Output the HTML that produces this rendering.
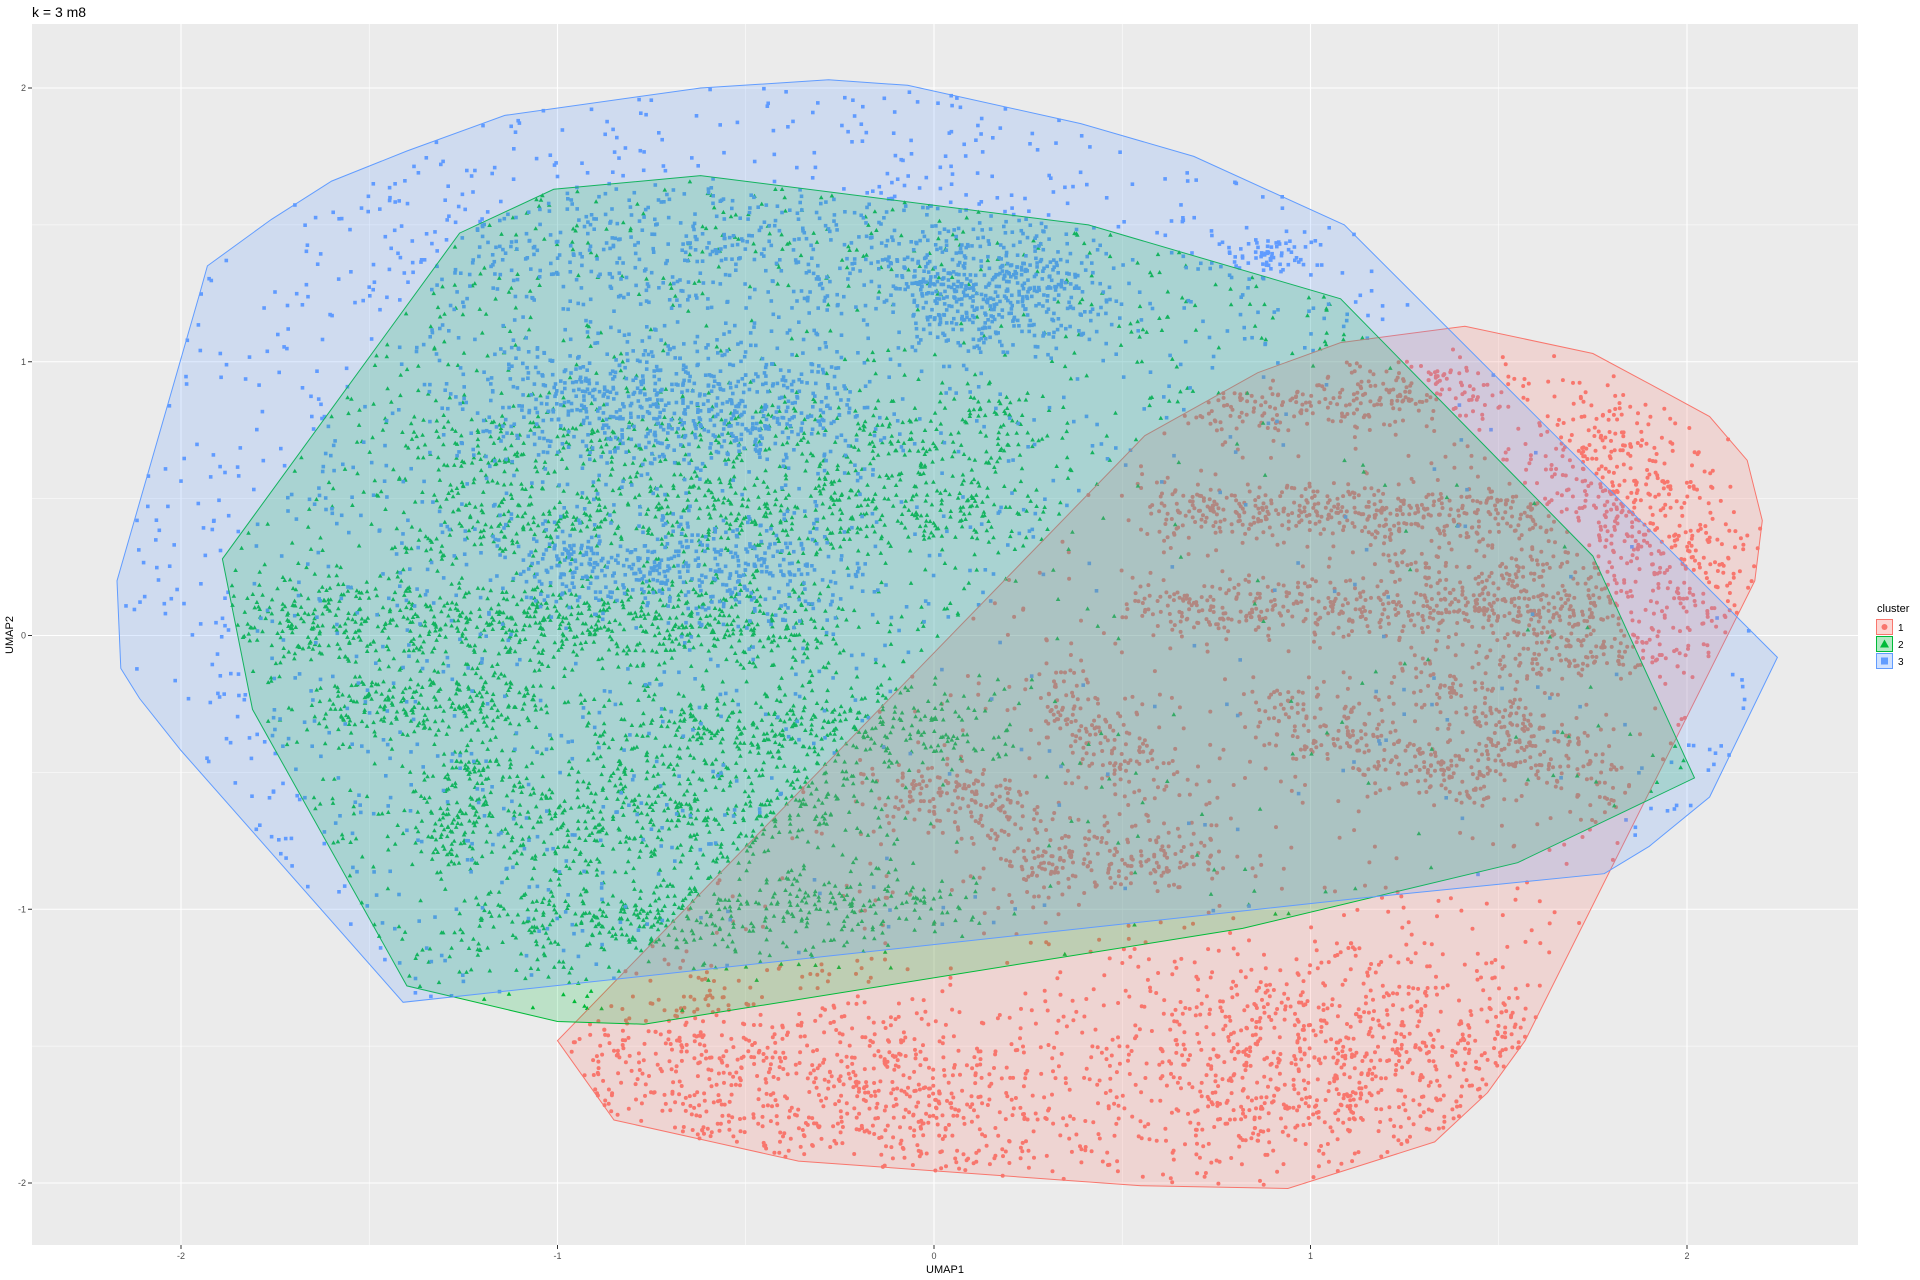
<!DOCTYPE html>
<html><head><meta charset="utf-8">
<style>
html,body{margin:0;padding:0;background:#fff;}
svg{display:block;font-family:"Liberation Sans",sans-serif;}
</style></head>
<body>
<svg id="chart" width="1920" height="1280">
  <text x="32" y="17" font-size="14" fill="#000">k = 3 m8</text>
  <rect x="32" y="24" width="1826" height="1221" fill="#EBEBEB"/>
  <g id="grid"></g>
  <g id="points"></g>
  <g id="hulls"></g>
  <g id="axes"></g>
  <text x="945" y="1273" font-size="11" text-anchor="middle" fill="#000">UMAP1</text>
  <text x="0" y="0" font-size="11" text-anchor="middle" fill="#000" transform="translate(13,635) rotate(-90)">UMAP2</text>
  <g>
    <text x="1877" y="612" font-size="11" fill="#000">cluster</text>
    <g>
      <rect x="1876.5" y="619.5" width="16" height="15" fill="#F8766D" fill-opacity="0.3" stroke="#F8766D"/>
      <circle cx="1884.5" cy="627" r="3" fill="#F8766D"/>
      <text x="1898" y="631" font-size="10" fill="#000">1</text>
    </g>
    <g>
      <rect x="1876.5" y="636.5" width="16" height="15" fill="#00BA38" fill-opacity="0.3" stroke="#00BA38"/>
      <polygon points="1884.5,639.5 1889,647.5 1880,647.5" fill="#00BA38"/>
      <text x="1898" y="648" font-size="10" fill="#000">2</text>
    </g>
    <g>
      <rect x="1876.5" y="653.5" width="16" height="15" fill="#619CFF" fill-opacity="0.3" stroke="#619CFF"/>
      <rect x="1881" y="657.5" width="7" height="7" fill="#619CFF"/>
      <text x="1898" y="665" font-size="10" fill="#000">3</text>
    </g>
  </g>
</svg>
<script>
// ---- data ----
const xTicks = [-2, -1, 0, 1, 2];
const yTicks = [-2, -1, 0, 1, 2];
const xTickLabels = ["-2", "-1", "0", "1", "2"];
const yTickLabels = ["-2", "-1", "0", "1", "2"];
const clusterNames = ["1", "2", "3"];
const clusterColors = ["#F8766D", "#00BA38", "#619CFF"];
// convex hulls [x, y] in UMAP units
const hull1 = [[-1.00,-1.48],[-0.85,-1.77],[-0.36,-1.92],[0.55,-2.01],[0.94,-2.02],[1.33,-1.85],[1.47,-1.67],[1.57,-1.48],[2.18,0.20],[2.20,0.42],[2.16,0.64],[2.06,0.80],[1.94,0.89],[1.75,1.03],[1.41,1.13],[1.08,1.07],[0.86,0.96],[0.56,0.73]];
const hull2 = [[-1.89,0.28],[-1.81,-0.27],[-1.40,-1.28],[-1.00,-1.41],[-0.77,-1.42],[0.82,-1.07],[1.55,-0.83],[2.02,-0.52],[1.75,0.29],[1.08,1.23],[0.41,1.50],[-0.62,1.68],[-1.01,1.63],[-1.26,1.47]];
const hull3 = [[-2.17,0.20],[-2.16,-0.12],[-2.11,-0.23],[-2.00,-0.42],[-1.41,-1.34],[1.13,-0.96],[1.78,-0.87],[1.90,-0.77],[2.06,-0.59],[2.24,-0.08],[1.09,1.50],[0.69,1.75],[0.39,1.87],[-0.07,2.01],[-0.28,2.03],[-0.62,2.00],[-1.14,1.90],[-1.40,1.77],[-1.60,1.66],[-1.76,1.52],[-1.93,1.35],[-1.95,1.25]];
// point-density strands: [x0, y0, x1, y1, spread, count]
const strands1 = [[0.6,0.45,1.6,0.45,0.05,380],[0.7,0.82,1.5,0.9,0.06,260],[0.55,0.1,1.8,0.1,0.05,420],[1.2,0.3,1.7,0.2,0.08,150],[0.9,-0.25,1.5,-0.55,0.07,260],[1.3,-0.1,1.8,-0.55,0.07,220],[0.3,-0.2,0.6,-0.55,0.08,160],[-0.1,-0.55,0.2,-0.65,0.07,160],[0.2,-0.85,0.7,-0.8,0.07,200],[1.5,-0.05,1.9,-0.05,0.05,120],[-0.9,-1.55,0.3,-1.75,0.18,900],[0.6,-1.6,1.5,-1.5,0.2,900],[1.7,0.8,2.1,0.0,0.12,500]];
const strands2 = [[-1.8,0.05,-0.3,0.05,0.08,700],[-1.6,-0.25,-1.1,-0.25,0.06,220],[-1.4,0.45,0.2,0.45,0.08,500],[-0.8,-0.35,0.1,-0.35,0.08,380],[-1.2,-0.65,-0.2,-0.65,0.1,450],[-1.2,-1.05,0.0,-1.0,0.08,450],[-1.4,0.72,0.3,0.72,0.08,350],[-1.3,-0.85,-1.2,-0.4,0.05,120]];
const strands3 = [[-1.1,0.85,-0.3,0.85,0.12,650],[-1.1,0.25,-0.3,0.25,0.09,450],[-0.05,1.25,0.35,1.25,0.1,400],[-1.3,1.4,0.3,1.4,0.13,500],[0.8,1.38,0.98,1.38,0.04,70]];
const uniform1 = 700, uniform2 = 1300, uniform3 = 1500;

// ---- scales ----
const sx = v => 934 + v * 376.5;
const sy = v => 635.5 - v * 273.75;
const NS = "http://www.w3.org/2000/svg";
function mk(tag, attrs, parent){const e=document.createElementNS(NS,tag);for(const k in attrs)e.setAttribute(k,attrs[k]);parent.appendChild(e);return e;}

// grid
const grid = document.getElementById('grid');
for (let v = -2.5; v <= 2.5; v += 0.5) {
  const major = Math.abs(v - Math.round(v)) < 1e-9;
  const x = sx(v);
  if (x > 32 && x < 1858) {
    const l = mk('line',{x1:x,x2:x,y1:24,y2:1245,stroke:'#fff','stroke-width':major?1.1:0.55},grid);
    
    
  }
  const y = sy(v);
  if (y > 24 && y < 1245) {
    const l = mk('line',{x1:32,x2:1858,y1:y,y2:y,stroke:'#fff','stroke-width':major?1.1:0.55},grid);
    
    
  }
}
// axes ticks
const axes = document.getElementById('axes');
xTicks.forEach((v,i)=>{
  const x = sx(v);
  mk('line',{x1:x,x2:x,y1:1245,y2:1249,stroke:'#333'},axes);
  const t = mk('text',{x:x,y:1259,'font-size':9,'text-anchor':'middle',fill:'#4D4D4D'},axes);
  t.textContent = xTickLabels[i];
  
  
});
yTicks.forEach((v,i)=>{
  const y = sy(v);
  mk('line',{x1:28,x2:32,y1:y,y2:y,stroke:'#333'},axes);
  const t = mk('text',{x:26,y:y+3,'font-size':9,'text-anchor':'end',fill:'#4D4D4D'},axes);
  t.textContent = yTickLabels[i];
  
  
});

// deterministic jitter generator (texture only)
let seed = 12345;
function rnd(){seed|=0;seed=seed+0x6D2B79F5|0;let t=Math.imul(seed^seed>>>15,1|seed);t=t+Math.imul(t^t>>>7,61|t)^t;return((t^t>>>14)>>>0)/4294967296;}
function gauss(){return (rnd()+rnd()+rnd()-1.5)/0.5;}
function inPoly(p, poly){let c=false;for(let i=0,j=poly.length-1;i<poly.length;j=i++){const a=poly[i],b=poly[j];if(((a[1]>p[1])!=(b[1]>p[1]))&&(p[0]<(b[0]-a[0])*(p[1]-a[1])/(b[1]-a[1])+a[0]))c=!c;}return c;}
function bbox(poly){let x0=1e9,x1=-1e9,y0=1e9,y1=-1e9;poly.forEach(p=>{x0=Math.min(x0,p[0]);x1=Math.max(x1,p[0]);y0=Math.min(y0,p[1]);y1=Math.max(y1,p[1]);});return [x0,x1,y0,y1];}
function genPoints(strands, hull, nUniform, reject){
  const pts=[];
  strands.forEach(s=>{for(let i=0;i<s[5];i++){const t=rnd();const p=[s[0]+(s[2]-s[0])*t+gauss()*s[4],s[1]+(s[3]-s[1])*t+gauss()*s[4]];if(inPoly(p,hull))pts.push(p);}});
  const b=bbox(hull);let n=0,guard=0;
  while(n<nUniform&&guard<200000){guard++;const p=[b[0]+rnd()*(b[1]-b[0]),b[2]+rnd()*(b[3]-b[2])];if(!inPoly(p,hull))continue;if(reject&&reject(p)&&rnd()<0.85)continue;pts.push(p);n++;}
  return pts;
}
const pts1 = genPoints(strands1, hull1, uniform1, null);
const pts2 = genPoints(strands2, hull2, uniform2, p=>inPoly(p,hull1));
const pts3 = genPoints(strands3, hull3, uniform3, p=>inPoly(p,hull1));

const layer = document.getElementById('points');
const g1 = mk('g',{fill:clusterColors[0]},layer);


pts1.forEach(p=>{mk('circle',{cx:sx(p[0]).toFixed(1),cy:sy(p[1]).toFixed(1),r:2},g1);});
const g2 = mk('g',{fill:clusterColors[1]},layer);


pts2.forEach(p=>{const x=sx(p[0]),y=sy(p[1]);mk('polygon',{points:`${x.toFixed(1)},${(y-2.4).toFixed(1)} ${(x+2.3).toFixed(1)},${(y+1.7).toFixed(1)} ${(x-2.3).toFixed(1)},${(y+1.7).toFixed(1)}`},g2);});
const g3 = mk('g',{fill:clusterColors[2]},layer);


pts3.forEach(p=>{mk('rect',{x:(sx(p[0])-1.8).toFixed(1),y:(sy(p[1])-1.8).toFixed(1),width:3.6,height:3.6},g3);});

// hulls
const hl = document.getElementById('hulls');
[[hull1,0,'cluster-1-hull'],[hull2,1,'cluster-2-hull'],[hull3,2,'cluster-3-hull']].forEach(h=>{
  const e = mk('polygon',{points:h[0].map(p=>sx(p[0]).toFixed(1)+','+sy(p[1]).toFixed(1)).join(' '),fill:clusterColors[h[1]],'fill-opacity':0.2,stroke:clusterColors[h[1]],'stroke-width':1},hl);
  
  
});
</script>
</body></html>
